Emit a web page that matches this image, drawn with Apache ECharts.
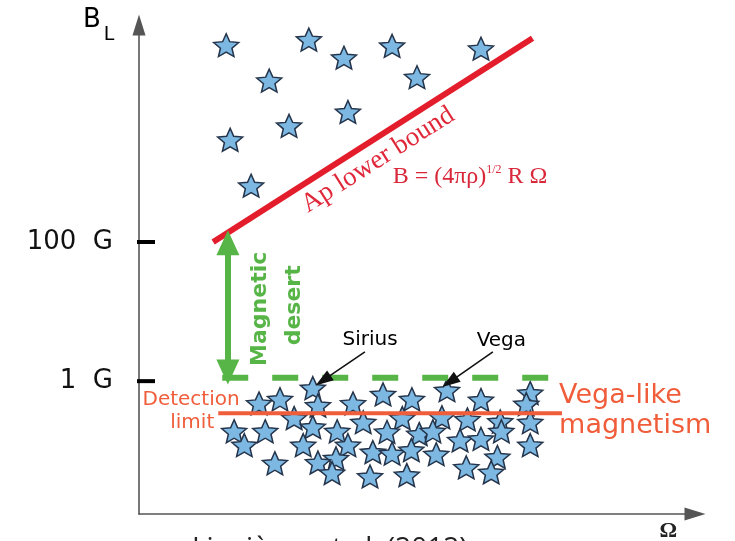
<!DOCTYPE html>
<html><head><meta charset="utf-8">
<script src="https://cdn.jsdelivr.net/npm/echarts@6/dist/echarts.min.js"></script>
<style>html,body{margin:0;padding:0;background:#fff}#c{width:735px;height:541px}</style>
</head><body><div id="c"></div>
<script>
// x: arbitrary rotation-rate units (0..98); y: log10(B / 1 G)
const upperStars = [
  [15.4,4.83],[30.0,4.91],[36.2,4.65],[44.7,4.82],[60.4,4.78],
  [23.0,4.32],[49.1,4.37],[36.9,3.87],[26.5,3.67],[16.1,3.47],[19.8,2.81]
];
const lowerStars = [
  [30.7,-0.10],[54.4,-0.13],[69.1,-0.17],[21.2,-0.32],[24.9,-0.26],[31.6,-0.35],
  [37.8,-0.32],[43.1,-0.19],[48.2,-0.26],[60.4,-0.27],[68.4,-0.33],[27.4,-0.53],
  [39.6,-0.59],[46.5,-0.53],[53.5,-0.52],[58.0,-0.55],[63.8,-0.58],[69.1,-0.59],
  [16.8,-0.72],[22.3,-0.72],[30.7,-0.66],[35.0,-0.72],[43.8,-0.73],[49.5,-0.76],
  [51.9,-0.72],[64.0,-0.72],[18.6,-0.92],[29.0,-0.92],[36.9,-0.92],[56.7,-0.85],
  [60.4,-0.83],[69.1,-0.92],[34.8,-1.11],[41.3,-1.02],[44.7,-1.04],[48.1,-0.99],
  [52.5,-1.05],[63.3,-1.09],[24.0,-1.18],[31.6,-1.17],[57.8,-1.24],[62.2,-1.31],
  [34.1,-1.32],[40.8,-1.37],[47.3,-1.35]
];
const yTickValues = [0, 2];
const yTickLabels = ['1  G', '100  G'];
const apLowerBound = [[13.1,2.00],[69.5,4.93]];
const detectionLimit = [[14.0,-0.46],[74.7,-0.46]];
const desertFloor = [[14.7,0.05],[72.3,0.05]];
const desertArrow = [[15.7,1.99],[15.7,0.13]];
const siriusArrow = [[39.9,0.42],[32.5,0.01]];
const vegaArrow = [[62.5,0.42],[54.9,-0.01]];

const annotationTexts = {
  ap: 'Ap lower bound', formula: '{a|B = (4πρ)}{s|1/2}{a| R Ω}',
  magnetic: 'Magnetic', desert: 'desert', sirius: 'Sirius', vega: 'Vega',
  detection: 'Detection', limit: 'limit', vegaLike: 'Vega-like', magnetism: 'magnetism',
  yName: 'B', ySub: 'L', xName: 'Ω'
};
const annotationAt = {
  ap: [42.2,3.18], formula: [44.8,2.94], magnetic: [21.4,1.04], desert: [27.4,1.09],
  sirius: [40.8,0.59], vega: [64.0,0.58], detection: [9.2,-0.27], limit: [9.4,-0.60],
  vegaLike: [74.2,-0.22], magnetism: [74.2,-0.65], yName: [-8.3,5.19], ySub: [-5.3,4.97],
  xName: [93.5,-2.16]
};
const sourceText = 'Lignières et al. (2012)';

const starPath = 'path://M50,0L63.5,31.4L97.55,34.55L71.9,57.1L79.39,90.45L50,73L20.61,90.45L28.1,57.1L2.45,34.55L36.5,31.4Z';
const SANS = 'DejaVu Sans', SERIF = 'Liberation Serif';
const GREEN = '#56b546', RED = '#e31d2b', ORANGE = '#f05d3a';

function textSeries(key, label) {
  return {
    type: 'scatter', silent: true, clip: false, symbolSize: 0, z: 10,
    itemStyle: { color: 'transparent', opacity: 1 }, data: [annotationAt[key]],
    label: Object.assign({ show: true, opacity: 1, position: 'inside', formatter: annotationTexts[key] }, label)
  };
}
function tickSeries(v) {
  return { type: 'line', silent: true, clip: false, symbol: 'none', z: 6,
    data: [[-1.59, v], [2.83, v]], lineStyle: { color: '#000', width: 4 } };
}

const chart = echarts.init(document.getElementById('c'));
chart.setOption({
  animation: false,
  title: { text: sourceText, left: 192, top: 535, padding: 0,
    textStyle: { fontFamily: 'Open Sans', fontSize: 28, fontWeight: 'normal', color: '#222' } },
  grid: { left: 139, width: 556, top: 25, height: 489 },
  xAxis: { type: 'value', min: 0, max: 98.2,
    axisLine: { show: true, onZero: false, symbol: ['none', 'triangle'], symbolSize: [13, 21],
      lineStyle: { color: '#555', width: 1.6 } },
    axisTick: { show: false }, axisLabel: { show: false }, splitLine: { show: false } },
  yAxis: { type: 'value', min: -1.91, max: 5.12,
    axisLine: { show: true, onZero: false, symbol: ['none', 'triangle'], symbolSize: [13, 21],
      lineStyle: { color: '#555', width: 1.6 } },
    axisTick: { show: false },
    axisLabel: { show: true, customValues: yTickValues, margin: 26,
      formatter: v => yTickLabels[yTickValues.indexOf(v)],
      fontFamily: SANS, fontSize: 26, color: '#111' },
    splitLine: { show: false } },
  series: [
    tickSeries(yTickValues[0]), tickSeries(yTickValues[1]),
    { type: 'scatter', silent: true, z: 3, data: upperStars.concat(lowerStars),
      symbol: starPath, symbolSize: [25, 24], symbolKeepAspect: true,
      itemStyle: { color: '#7cb8e2', borderColor: '#25344a', borderWidth: 1.5, opacity: 1 } },
    { type: 'line', silent: true, symbol: 'none', z: 4, data: apLowerBound,
      lineStyle: { color: RED, width: 6 } },
    { type: 'line', silent: true, symbol: 'none', z: 4, data: desertFloor,
      lineStyle: { color: GREEN, width: 6, type: [26, 24] } },
    { type: 'line', silent: true, symbol: 'none', z: 5, data: detectionLimit,
      lineStyle: { color: ORANGE, width: 4 } },
    { type: 'line', silent: true, data: [], z: 5,
      markLine: { silent: true, animation: false, label: { show: false },
        data: [
          [{ coord: desertArrow[0], symbol: 'triangle', symbolSize: [23, 25] },
           { coord: desertArrow[1], symbol: 'triangle', symbolSize: [23, 25] }]
        ],
        lineStyle: { color: GREEN, width: 6, type: 'solid' } } },
    { type: 'line', silent: true, data: [], z: 5,
      markLine: { silent: true, animation: false, label: { show: false },
        symbol: ['none', 'triangle'], symbolSize: [12, 18],
        data: [
          [{ coord: siriusArrow[0] }, { coord: siriusArrow[1] }],
          [{ coord: vegaArrow[0] }, { coord: vegaArrow[1] }]
        ],
        lineStyle: { color: '#111', width: 1.6, type: 'solid' } } },
    textSeries('ap', { rotate: 32.4, fontFamily: SERIF, fontSize: 27, color: '#e0283a' }),
    textSeries('formula', { position: 'right', distance: 0,
      rich: { a: { fontFamily: SERIF, fontSize: 24, color: '#d9283a', lineHeight: 26 },
              s: { fontFamily: SERIF, fontSize: 12, color: '#d9283a', verticalAlign: 'top', lineHeight: 26 } } }),
    textSeries('magnetic', { rotate: 90, fontFamily: SANS, fontWeight: 'bold', fontSize: 22, color: GREEN }),
    textSeries('desert', { rotate: 90, fontFamily: SANS, fontWeight: 'bold', fontSize: 22, color: GREEN }),
    textSeries('sirius', { fontFamily: SANS, fontSize: 20, color: '#000' }),
    textSeries('vega', { fontFamily: SANS, fontSize: 20, color: '#000' }),
    textSeries('detection', { fontFamily: SANS, fontSize: 20, color: ORANGE }),
    textSeries('limit', { fontFamily: SANS, fontSize: 20, color: ORANGE }),
    textSeries('vegaLike', { position: 'right', distance: 0, fontFamily: SANS, fontSize: 27, color: ORANGE }),
    textSeries('magnetism', { position: 'right', distance: 0, fontFamily: SANS, fontSize: 27, color: ORANGE }),
    textSeries('yName', { fontFamily: SANS, fontSize: 26, color: '#000' }),
    textSeries('ySub', { fontFamily: SANS, fontSize: 19, color: '#000' }),
    textSeries('xName', { fontFamily: SERIF, fontSize: 22, fontWeight: 'bold', color: '#222' })
  ]
});
</script></body></html>
